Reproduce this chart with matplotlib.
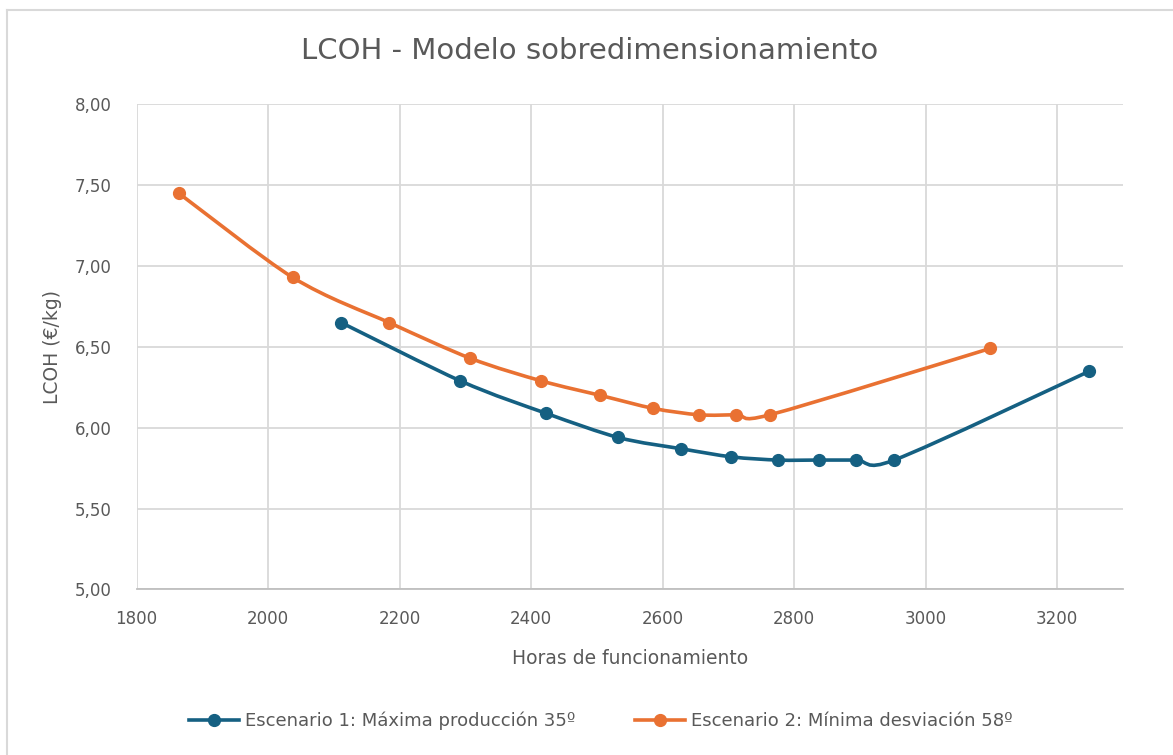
import numpy as np
import matplotlib
matplotlib.use("Agg")
import matplotlib.pyplot as plt
from matplotlib.path import Path
from matplotlib.patches import PathPatch
from matplotlib.lines import Line2D
from matplotlib.ticker import FuncFormatter, MultipleLocator

# --- datos ---
horas_e1 = [2111, 2292, 2422, 2532, 2628, 2704, 2775, 2837, 2894, 2952, 3249]
lcoh_e1 = [6.65, 6.29, 6.09, 5.94, 5.87, 5.82, 5.80, 5.80, 5.80, 5.80, 6.35]

horas_e2 = [1864, 2037, 2184, 2307, 2415, 2505, 2585, 2655, 2712, 2763, 3098]
lcoh_e2 = [7.45, 6.93, 6.65, 6.43, 6.29, 6.20, 6.12, 6.08, 6.08, 6.08, 6.49]

etiquetas = ["Escenario 1: Máxima producción 35º", "Escenario 2: Mínima desviación 58º"]
colores = ["#156082", "#E97132"]

TXT = "#595959"
GRID = "#D9D9D9"
plt.rcParams["font.family"] = ["DejaVu Sans"]


def curva_suave(x, y):
    # curva tipo Excel (Catmull-Rom -> Bezier cubica)
    p = np.column_stack([x, y]).astype(float)
    ext = np.vstack([p[0], p, p[-1]])
    verts = [p[0]]
    codes = [Path.MOVETO]
    for i in range(1, len(ext) - 2):
        c1 = ext[i] + (ext[i + 1] - ext[i - 1]) / 6
        c2 = ext[i + 1] - (ext[i + 2] - ext[i]) / 7.5
        verts += [c1, c2, ext[i + 1]]
        codes += [Path.CURVE4] * 3
    return Path(verts, codes)


fig = plt.figure(figsize=(11.73, 7.55), dpi=100)
ax = fig.add_axes([0.1165, 0.2193, 0.8409, 0.6426])

for xs, ys, c in zip([horas_e1, horas_e2], [lcoh_e1, lcoh_e2], colores):
    ax.add_patch(PathPatch(curva_suave(xs, ys), facecolor="none", edgecolor=c,
                           lw=2.6, capstyle="round", joinstyle="round", zorder=3))
    ax.plot(xs, ys, linestyle="none", marker="o", ms=8.5, color=c, zorder=4)

ax.set_xlim(1800, 3300)
ax.set_ylim(5.0, 8.0)
ax.xaxis.set_major_locator(MultipleLocator(200))
ax.yaxis.set_major_locator(MultipleLocator(0.5))
ax.yaxis.set_major_formatter(FuncFormatter(lambda v, p: f"{v:.2f}".replace(".", ",")))
ax.xaxis.set_major_formatter(FuncFormatter(lambda v, p: f"{v:.0f}"))

ax.grid(True, color=GRID, lw=1.3)
ax.set_axisbelow(True)
for s in ["top", "right", "left"]:
    ax.spines[s].set_visible(False)
ax.spines["bottom"].set_color("#BFBFBF")
ax.spines["bottom"].set_linewidth(1.3)
ax.tick_params(length=0, labelsize=12, labelcolor=TXT)
ax.tick_params(axis="x", pad=15)
ax.tick_params(axis="y", pad=18)

ax.set_xlabel("Horas de funcionamiento", fontsize=13.5, color=TXT, labelpad=15)
ax.set_ylabel("LCOH (€/kg)", fontsize=13.5, color=TXT, labelpad=9)
fig.text(0.503, 0.932, "LCOH - Modelo sobredimensionamiento", ha="center", va="center",
         fontsize=21, color=TXT)

handles = [Line2D([], [], color=c, lw=2.6, marker="o", ms=8.5) for c in colores]
fig.legend(handles, etiquetas, loc="center", bbox_to_anchor=(0.512, 0.045), ncol=2,
           frameon=False, fontsize=13, labelcolor=TXT, handlelength=2.8,
           handletextpad=0.3, columnspacing=3.3)

# borde del grafico
fig.add_artist(Line2D([7 / 1173, 7 / 1173], [0, 1 - 10 / 755], transform=fig.transFigure,
                      color=GRID, lw=1.5))
fig.add_artist(Line2D([7 / 1173, 1], [1 - 10 / 755, 1 - 10 / 755], transform=fig.transFigure,
                      color=GRID, lw=1.5))

fig.savefig("out.png", dpi=100)
